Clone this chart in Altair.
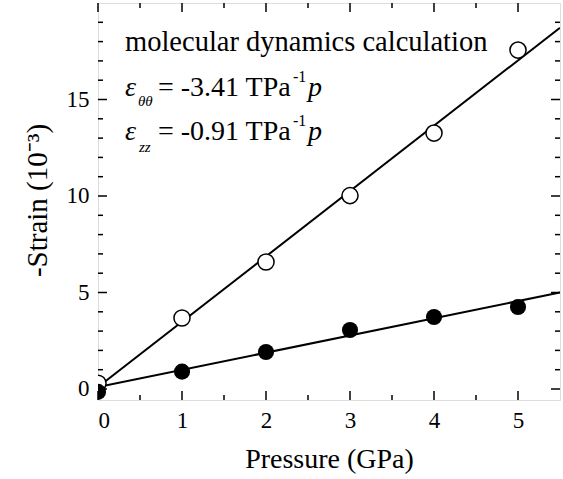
import altair as alt
import pandas as pd

# ---- data ----
pressure = [0, 1, 2, 3, 4, 5]
strain_theta = [0.3, 3.68, 6.58, 10.02, 13.26, 17.56]   # open circles
strain_zz = [-0.15, 0.9, 1.92, 3.06, 3.73, 4.25]        # filled circles

fit_x = [0.0, 5.5]
fit_theta = [0.1, 18.72]
fit_zz = [0.1, 5.0]

x_major = [0, 1, 2, 3, 4, 5]
x_minor = [0.5, 1.5, 2.5, 3.5, 4.5]
y_major = [0, 5, 10, 15]
y_minor = [1, 2, 3, 4, 6, 7, 8, 9, 11, 12, 13, 14, 16, 17, 18, 19]

W, H = 462, 397
FONT = "Liberation Serif"

xs = alt.Scale(domain=[0, 5.5], nice=False, zero=False)
ys = alt.Scale(domain=[-0.57, 20], nice=False, zero=False)

pts = pd.DataFrame({
    "p": pressure * 2,
    "s": strain_theta + strain_zz,
    "kind": ["theta"] * 6 + ["zz"] * 6,
})
fits = pd.DataFrame({
    "p": fit_x * 2,
    "s": fit_theta + fit_zz,
    "kind": ["theta"] * 2 + ["zz"] * 2,
})

X = alt.X("p:Q", scale=xs, axis=alt.Axis(
    values=x_major, format="d", title="Pressure (GPa)", ticks=False, domain=False,
    grid=False, labelPadding=9, labelFontSize=23, titleFontSize=28, titlePadding=13,
    titleFontWeight="normal", labelFont=FONT, titleFont=FONT,
    labelColor="black", titleColor="black"))
Y = alt.Y("s:Q", scale=ys, axis=alt.Axis(
    values=y_major, format="d", title="-Strain (10⁻³)", ticks=False, domain=False,
    grid=False, labelPadding=9, labelFontSize=23, titleFontSize=29,
    titleFontWeight="normal", titleAngle=270, titleX=-52, titleY=197,
    titleBaseline="alphabetic", titleAlign="center", labelFont=FONT, titleFont=FONT,
    labelColor="black", titleColor="black"))

lines = alt.Chart(fits).mark_line(color="black", strokeWidth=2, clip=True).encode(
    x=X, y=Y, detail="kind:N")

open_pts = alt.Chart(pts[pts.kind == "theta"]).mark_point(
    shape="circle", filled=True, fill="white", stroke="black", strokeWidth=1.5,
    size=260, opacity=1, clip=True).encode(x="p:Q", y="s:Q")
fill_pts = alt.Chart(pts[pts.kind == "zz"]).mark_point(
    shape="circle", filled=True, color="black", size=260, opacity=1, clip=True
).encode(x="p:Q", y="s:Q")

def xticks(vals, length):
    d = pd.DataFrame({"p": vals})
    b = alt.Chart(d).mark_rule(color="black", strokeWidth=1.5).encode(
        x=alt.X("p:Q", scale=xs), y=alt.value(H), y2=alt.value(H - length))
    t = alt.Chart(d).mark_rule(color="black", strokeWidth=1.5).encode(
        x=alt.X("p:Q", scale=xs), y=alt.value(0), y2=alt.value(length))
    return b + t

def yticks(vals, length):
    d = pd.DataFrame({"s": vals})
    l = alt.Chart(d).mark_rule(color="black", strokeWidth=1.5).encode(
        y=alt.Y("s:Q", scale=ys), x=alt.value(0), x2=alt.value(length))
    r = alt.Chart(d).mark_rule(color="black", strokeWidth=1.5).encode(
        y=alt.Y("s:Q", scale=ys), x=alt.value(W), x2=alt.value(W - length))
    return l + r

ticks = xticks(x_major, 9) + xticks(x_minor, 5) + yticks(y_major, 9) + yticks(y_minor, 5)

def txt(s, x, y, size=28, style="normal"):
    return alt.Chart(pd.DataFrame({"t": [s]})).mark_text(
        font=FONT, fontSize=size, fontStyle=style, align="left",
        baseline="alphabetic", color="black").encode(
        text="t:N", x=alt.value(x), y=alt.value(y))

ann = (
    txt("molecular dynamics calculation", 27, 48, size=28.5)
    + txt("ε", 27, 93, style="italic")
    + txt("θθ", 40, 103, size=15, style="italic")
    + txt("= -3.41 TPa", 60, 93)
    + txt("-1", 195, 79, size=16)
    + txt("p", 210, 93, style="italic")
    + txt("ε", 27, 137, style="italic")
    + txt("zz", 41, 149, size=15, style="italic")
    + txt("= -0.91 TPa", 60, 137)
    + txt("-1", 195, 123, size=16)
    + txt("p", 210, 137, style="italic")
)

chart = alt.layer(lines, open_pts, fill_pts, ticks, ann).properties(
    width=W, height=H,
    autosize=alt.AutoSizeParams(type="none"),
    padding={"left": 98, "top": 3, "right": 3, "bottom": 79},
).configure_view(stroke="black", strokeWidth=2).configure(background="white")

chart.save("out.html", embed_options={"renderer": "svg", "actions": False})
